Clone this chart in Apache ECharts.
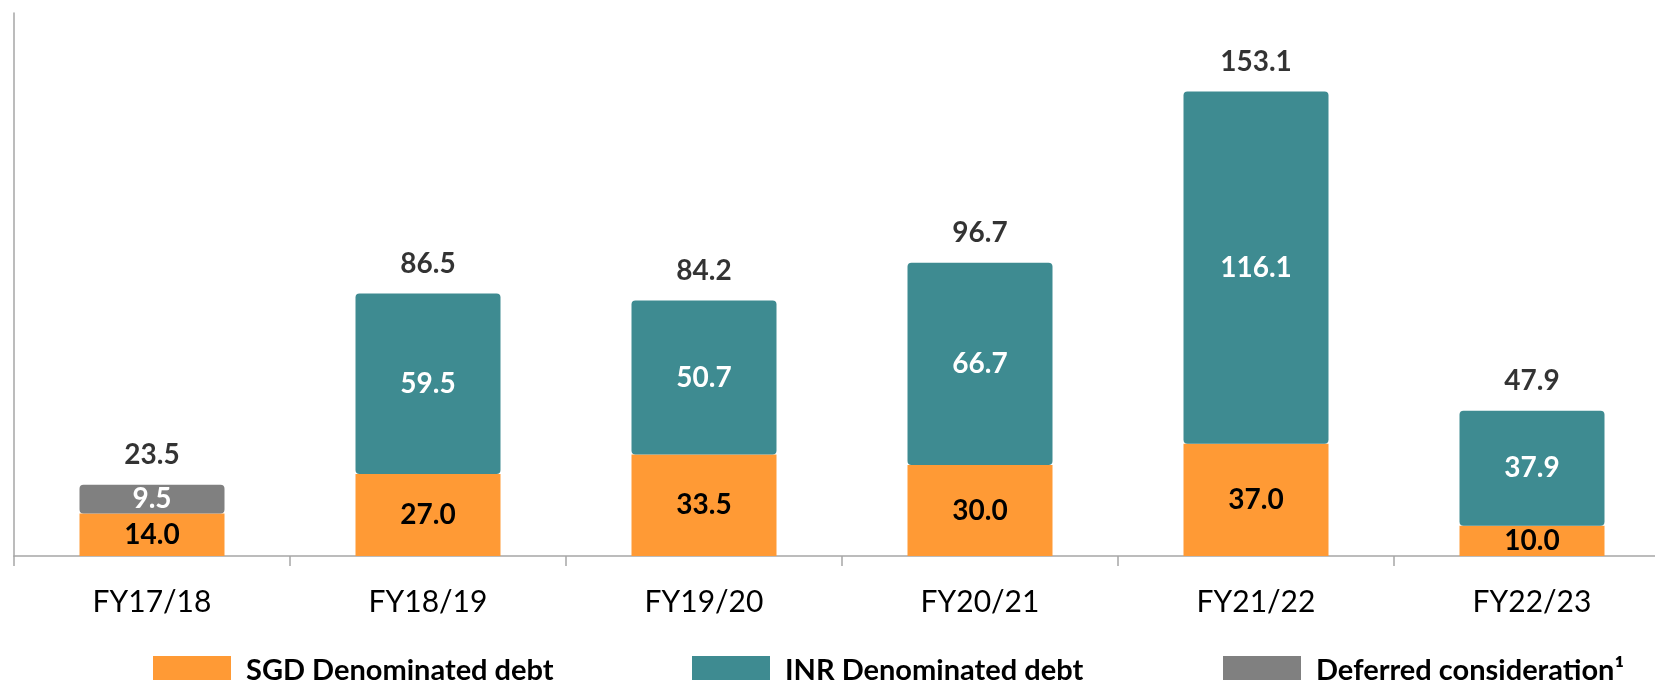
<!DOCTYPE html>
<html>
<head>
<meta charset="utf-8">
<script src="https://cdn.jsdelivr.net/npm/echarts@6/dist/echarts.min.js"></script>
<style>
  html, body { margin: 0; padding: 0; background: #fff; }
  #chart { width: 1655px; height: 680px; }
</style>
</head>
<body>
<div id="chart"></div>
<script>
// data
var years = ["FY17/18", "FY18/19", "FY19/20", "FY20/21", "FY21/22", "FY22/23"];
var sgdDebt = [14.0, 27.0, 33.5, 30.0, 37.0, 10.0];
var inrDebt = [null, 59.5, 50.7, 66.7, 116.1, 37.9];
var deferred = [9.5, null, null, null, null, null];
var seriesNames = ["SGD Denominated debt", "INR Denominated debt", "Deferred consideration¹"];

var totals = years.map(function (y, i) {
  return +((sgdDebt[i] || 0) + (inrDebt[i] || 0) + (deferred[i] || 0)).toFixed(1);
});

var FONT = "Lato";
var ORANGE = "#FF9A35";
var TEAL = "#3E8B91";
var GREY = "#808080";

function fmt(p) {
  return p.value == null ? "" : Number(p.value).toFixed(1);
}

function legendAt(left, name) {
  return {
    left: left,
    top: 651,
    itemWidth: 78,
    itemHeight: 30,
    icon: "rect",
    selectedMode: false,
    data: [name],
    textStyle: {
      fontFamily: FONT,
      fontSize: 29,
      fontWeight: "bold",
      color: "#000",
      padding: [0, 0, 0, 10]
    }
  };
}

function valueLabel(color, pos) {
  return {
    show: true,
    position: pos || "inside",
    formatter: fmt,
    fontFamily: FONT,
    fontSize: 28,
    fontWeight: "bold",
    color: color
  };
}

var chart = echarts.init(document.getElementById("chart"));
chart.setOption({
  animation: false,
  grid: {
    left: 14,
    top: 13,
    width: 1656,
    height: 543,
    outerBoundsMode: "none",
    containLabel: false
  },
  legend: [
    legendAt(148, seriesNames[0]),
    legendAt(687, seriesNames[1]),
    legendAt(1218, seriesNames[2])
  ],
  xAxis: {
    type: "category",
    data: years,
    axisLine: { lineStyle: { color: "#A6A6A6", width: 1.5 } },
    axisTick: { show: true, length: 10, lineStyle: { color: "#A6A6A6", width: 1.5 } },
    axisLabel: {
      interval: 0,
      margin: 31,
      fontFamily: FONT,
      fontSize: 30,
      color: "#000"
    }
  },
  yAxis: {
    type: "value",
    min: 0,
    max: 179,
    axisLine: { show: true, lineStyle: { color: "#A6A6A6", width: 1.5 } },
    axisTick: { show: false },
    axisLabel: { show: false },
    splitLine: { show: false }
  },
  series: [
    {
      name: seriesNames[0],
      type: "bar",
      stack: "debt",
      barWidth: 145,
      data: sgdDebt,
      itemStyle: { color: ORANGE },
      label: valueLabel("#000")
    },
    {
      name: seriesNames[1],
      type: "bar",
      stack: "debt",
      barWidth: 145,
      data: inrDebt,
      itemStyle: { color: TEAL, borderRadius: 4 },
      label: valueLabel("#fff")
    },
    {
      name: seriesNames[2],
      type: "bar",
      stack: "debt",
      barWidth: 145,
      data: deferred,
      itemStyle: { color: GREY, borderRadius: 4 },
      label: valueLabel("#fff")
    },
    {
      name: "Total",
      type: "scatter",
      data: totals,
      symbolSize: 0,
      silent: true,
      label: Object.assign(valueLabel("#000", "top"), { distance: 16 })
    }
  ]
});
</script>
</body>
</html>
